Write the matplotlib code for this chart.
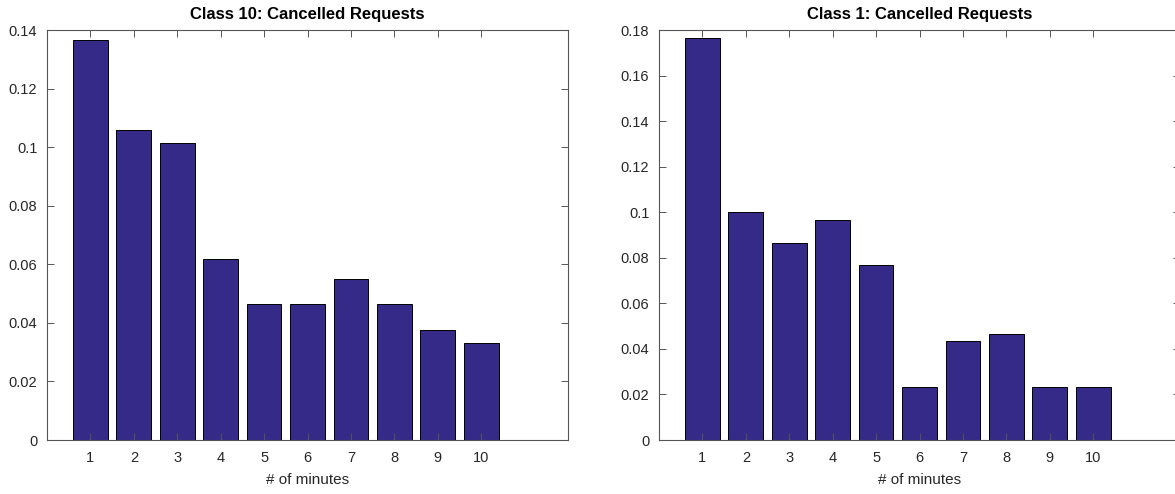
import matplotlib
matplotlib.use('Agg')
import matplotlib.pyplot as plt
from matplotlib.ticker import FuncFormatter

minutes = list(range(1, 11))
class10 = [0.1367, 0.1057, 0.1013, 0.0617, 0.0463, 0.0463, 0.0551, 0.0463, 0.0374, 0.0330]
class1 = [0.1767, 0.1000, 0.0867, 0.0967, 0.0767, 0.0233, 0.0433, 0.0467, 0.0233, 0.0233]

plt.rcParams['font.family'] = ['Liberation Sans', 'DejaVu Sans']

bar_color = '#352A87'
text_color = '#262626'
axis_color = '#555555'

fig = plt.figure(figsize=(11.75, 4.94), dpi=100)
ax1 = fig.add_axes([47 / 1175, 54 / 494, 521 / 1175, 410 / 494])
ax2 = fig.add_axes([659 / 1175, 54 / 494, 521 / 1175, 410 / 494])


def fmt(v, pos):
    return '%g' % round(v, 4)


for ax, vals, title, ymax in [(ax1, class10, 'Class 10: Cancelled Requests', 0.14),
                              (ax2, class1, 'Class 1: Cancelled Requests', 0.18)]:
    ax.bar(minutes, vals, width=0.8, color=bar_color, edgecolor='black', linewidth=0.7)
    ax.set_xlim(0, 12)
    ax.set_ylim(0, ymax)
    ax.set_xticks(minutes)
    ax.set_yticks([i * 0.02 for i in range(int(round(ymax / 0.02)) + 1)])
    ax.yaxis.set_major_formatter(FuncFormatter(fmt))
    ax.tick_params(direction='in', top=True, right=True, length=5, width=0.7,
                   color=axis_color, labelcolor=text_color, labelsize=10.5, pad=8)
    ax.tick_params(axis='y', pad=7)
    for s in ax.spines.values():
        s.set_color(axis_color)
        s.set_linewidth(0.8)
    ax.set_title(title, fontsize=12, fontweight='bold', color='black', pad=8)
    ax.set_xlabel('# of minutes', fontsize=11, color=text_color, labelpad=6)

fig.savefig('out.png', dpi=100)
